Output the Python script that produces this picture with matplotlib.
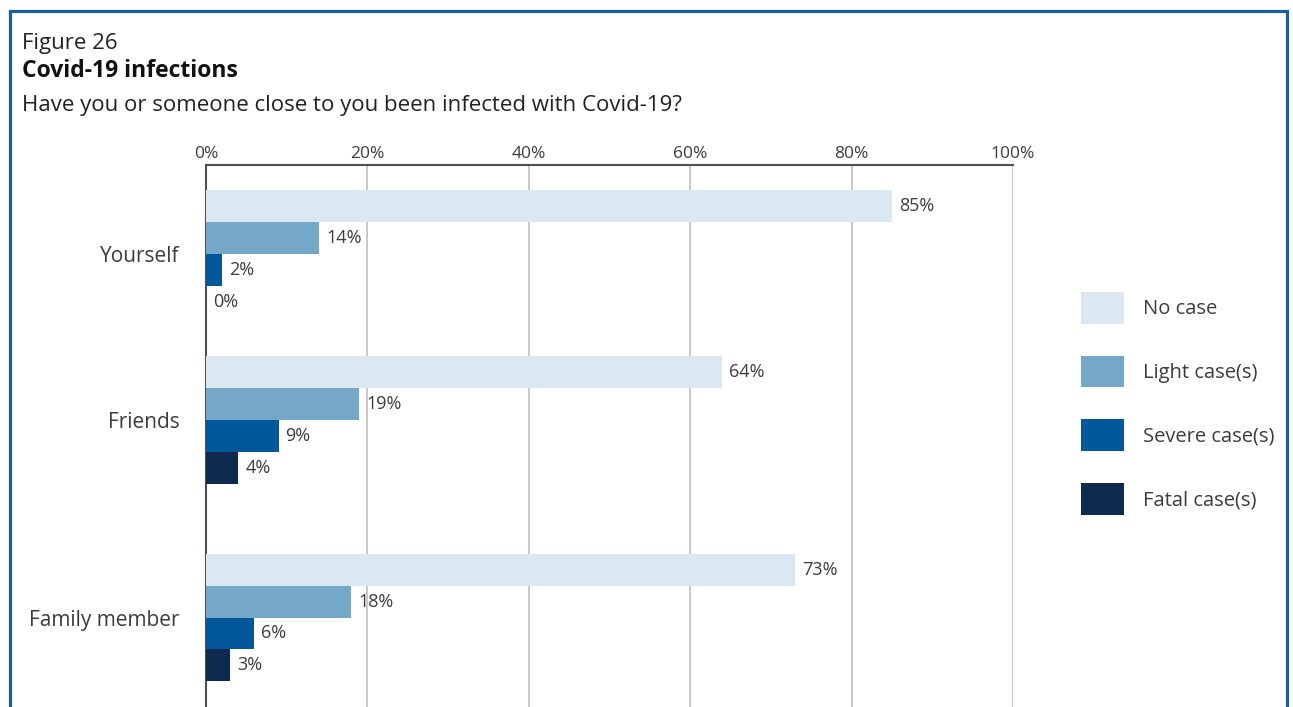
import matplotlib.pyplot as plt
from matplotlib.patches import Rectangle, Patch

plt.rcParams['font.family'] = ['Open Sans', 'DejaVu Sans']

groups = ["Yourself", "Friends", "Family member"]
series = ["No case", "Light case(s)", "Severe case(s)", "Fatal case(s)"]
no_case = [85, 64, 73]
light_case = [14, 19, 18]
severe_case = [2, 9, 6]
fatal_case = [0, 4, 3]
ticks = [0, 20, 40, 60, 80, 100]

colors = ["#dce8f1", "#74a7c8", "#00589a", "#0e2a4f"]
text_col = "#3c3c3c"

# group centres (in bar-height units), slightly uneven like the printed layout
group_pos = [0, 5.19, 11.38]
offsets = [-1.5, -0.5, 0.5, 1.5]

fig = plt.figure(figsize=(12.93, 7.07), dpi=100)
W, H = 1293, 707

ax = fig.add_axes([206 / W, 0, (1013 - 206) / W, (H - 165) / H])

values = [no_case, light_case, severe_case, fatal_case]
for vals, off, col in zip(values, offsets, colors):
    ys = [g + off for g in group_pos]
    ax.barh(ys, vals, height=1.0, color=col, zorder=3)
    for y, v in zip(ys, vals):
        ax.annotate(f"{v}%", (v, y), xytext=(5, 0), textcoords="offset points",
                    va="center", ha="left", fontsize=13, color=text_col)

ax.set_xlim(0, 100)
ax.set_ylim(14.18, -2.78)
ax.set_xticks(ticks)
ax.set_xticklabels([f"{t}%" for t in ticks], fontsize=12.5, color=text_col)
ax.xaxis.tick_top()
ax.tick_params(axis='x', length=0, pad=2)
ax.set_yticks(group_pos)
ax.set_yticklabels(groups, fontsize=15, color=text_col)
ax.tick_params(axis='y', length=0, pad=19)
ax.grid(axis='x', color="#c4c4c4", linewidth=1.3, zorder=0)
for s in ["bottom", "right"]:
    ax.spines[s].set_visible(False)
for s in ["top", "left"]:
    ax.spines[s].set_color("#505050")
    ax.spines[s].set_linewidth(1.5)

handles = [Patch(facecolor=c, edgecolor='none') for c in colors]
fig.legend(handles, series, loc='upper left', bbox_to_anchor=(1081 / W, 1 - 292 / H),
           frameon=False, fontsize=14.5, handlelength=2.12, handleheight=2.03,
           labelspacing=1.6, handletextpad=0.95, borderpad=0, borderaxespad=0,
           labelcolor=text_col)

fig.text(22 / W, 1 - 43 / H, "Figure 26", fontsize=16, color="#222222", va="center")
fig.text(22 / W, 1 - 71 / H, "Covid-19 infections", fontsize=16.5, fontweight='bold',
         color="#111111", va="center")
fig.text(22 / W, 1 - 106 / H, "Have you or someone close to you been infected with Covid-19?",
         fontsize=16, color="#222222", va="center")

# frame around the figure
fig.patches.append(Rectangle((9.5 / W, -0.05), (1287 - 9.5) / W, 1.05 - 10.5 / H,
                             transform=fig.transFigure, fill=False,
                             edgecolor="#1a5e9e", linewidth=2.3))

fig.savefig("out.png", dpi=100)
